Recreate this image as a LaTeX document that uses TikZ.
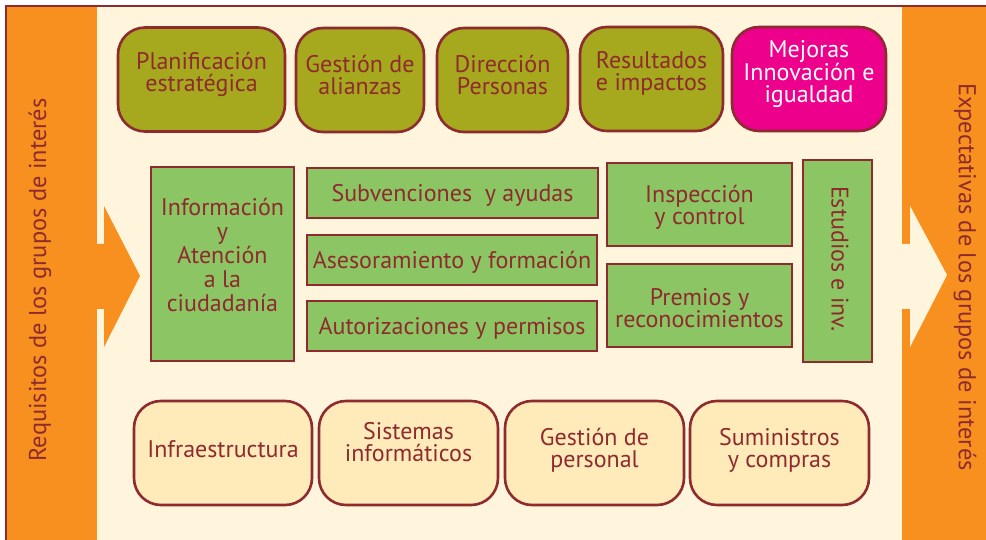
\documentclass[tikz,border=0pt]{standalone}
\usepackage{fontspec}
\setmainfont{PT Sans}
\definecolor{frameRed}{HTML}{8E2B2E}
\definecolor{txtRed}{HTML}{8E2B2E}
\definecolor{orng}{HTML}{F7901E}
\definecolor{creamBg}{HTML}{FFF4DC}
\definecolor{olive}{HTML}{A6A81E}
\definecolor{magen}{HTML}{EC008C}
\definecolor{grn}{HTML}{8CC563}
\definecolor{lightBox}{HTML}{FFEBBA}
\tikzset{
  boxbase/.style={draw=frameRed, line width=2.6pt, inner sep=0pt},
  topbox/.style={boxbase, fill=olive, rounded corners=27pt, minimum height=104pt},
  magbox/.style={boxbase, fill=magen, rounded corners=27pt, minimum height=104pt},
  midbox/.style={boxbase, fill=grn},
  botbox/.style={boxbase, fill=lightBox, rounded corners=27pt, minimum height=104pt},
  txt/.style={text=txtRed, align=center, font=\fontsize{24}{22}\selectfont, inner sep=0pt, yshift=-2pt},
}
\begin{document}
\begin{tikzpicture}[x=1pt,y=-1pt]
\useasboundingbox (0,0) rectangle (986,540);
% background areas
\fill[white] (0,0) rectangle (986,540);
\fill[creamBg] (6,6) rectangle (992,546);
\fill[orng] (6,6) rectangle (97,546);
\fill[orng] (902,6) rectangle (992,546);
% arrows
\fill[orng] (90,244) -- (104,244) -- (104,206) -- (140,276) -- (104,347) -- (104,309) -- (90,309) -- cycle;
\fill[creamBg] (895,244) -- (910,244) -- (910,206) -- (947,275) -- (910,347) -- (910,309) -- (895,309) -- cycle;
% frame
\draw[frameRed, line width=2.2pt] (6,560) -- (6,6) -- (1000,6);
% side texts
\node[txt, yshift=2pt, rotate=90, font=\fontsize{24.4}{26}\selectfont] (req) at (40,280) {Requisitos de los grupos de interés};
\node[txt, yshift=2pt, rotate=-90, font=\fontsize{24.4}{26}\selectfont] (exp) at (965,277) {Expectativas de los grupos de interés};
% top row
\node[topbox, minimum width=167pt] (plan) at (201.5,79.5) {};
\node[txt] (plant) at (201.5,72) {Planificación\\estratégica};
\node[topbox, minimum width=128pt] (alian) at (360,80) {};
\node[txt] (aliant) at (360,73) {Gestión de\\alianzas};
\node[topbox, minimum width=131pt] (dir) at (502.5,80) {};
\node[txt] (dirt) at (502.5,73) {Dirección\\Personas};
\node[topbox, minimum width=143pt] (res) at (651.5,79) {};
\node[txt] (rest) at (651.5,71) {Resultados\\e impactos};
\node[magbox, minimum width=154pt] (mej) at (809,79) {};
\node[txt, text=white] (mejt) at (809,72) {Mejoras\\Innovación e\\igualdad};
% middle row
\node[midbox, minimum width=143pt, minimum height=194pt] (info) at (222.5,264) {};
\node[txt, font=\fontsize{24}{24}\selectfont] (infot) at (222.5,253) {Información\\y\\Atención\\a la\\ciudadanía};
\node[midbox, minimum width=291pt, minimum height=50pt] (subv) at (452.5,193) {};
\node[txt] (subvt) at (452.5,193) {Subvenciones\ \ y ayudas};
\node[midbox, minimum width=290pt, minimum height=50pt] (ases) at (452,260) {};
\node[txt] (asest) at (452,260) {Asesoramiento y formación};
\node[midbox, minimum width=290pt, minimum height=50pt] (auto) at (452,326) {};
\node[txt] (autot) at (452,326) {Autorizaciones y permisos};
\node[midbox, minimum width=185pt, minimum height=83pt] (insp) at (699.5,204.5) {};
\node[txt] (inspt) at (699.5,205) {Inspección\\y control};
\node[midbox, minimum width=185pt, minimum height=83pt] (prem) at (699.5,305.5) {};
\node[txt] (premt) at (699.5,306) {Premios y\\reconocimientos};
\node[midbox, minimum width=69pt, minimum height=202pt] (estu) at (837.5,261) {};
\node[txt, yshift=2pt, rotate=-90] (estut) at (840,259) {Estudios e inv.};
% bottom row
\node[botbox, minimum width=178pt] (infra) at (223,453) {};
\node[txt] (infrat) at (223,447) {Infraestructura};
\node[botbox, minimum width=179pt] (sist) at (408.5,453) {};
\node[txt] (sistt) at (408.5,440) {Sistemas\\informáticos};
\node[botbox, minimum width=179pt] (gper) at (594.5,453) {};
\node[txt] (gpert) at (594.5,448.5) {Gestión de\\personal};
\node[botbox, minimum width=179pt] (sumi) at (779.5,453) {};
\node[txt] (sumit) at (779.5,448.5) {Suministros\\y compras};
\end{tikzpicture}
\end{document}
